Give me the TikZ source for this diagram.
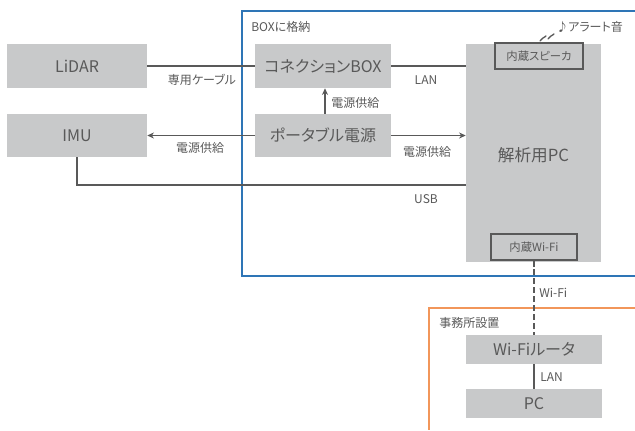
\documentclass[tikz,border=0pt]{standalone}
\usepackage{fontspec}
\setmainfont{Noto Sans CJK JP}[RawFeature={+palt}]
\usetikzlibrary{arrows.meta}
\definecolor{boxgray}{RGB}{200,201,202}
\definecolor{txt}{RGB}{89,89,89}
\definecolor{linegray}{RGB}{89,89,89}
\definecolor{bluec}{RGB}{46,117,182}
\definecolor{orangec}{RGB}{242,150,90}
\tikzset{
  box/.style={fill=boxgray, draw=none, text=txt, font=\fontsize{12}{14}\selectfont, inner sep=0pt},
  inbox/.style={fill=boxgray, draw=linegray, line width=0.8pt, text=txt, font=\fontsize{8.5}{10}\selectfont, inner sep=0pt},
  lbl/.style={text=txt, font=\fontsize{9}{11}\selectfont, inner sep=0pt},
  cable/.style={draw=linegray, line width=1.5pt},
  feed/.style={draw=linegray, line width=0.8pt, -{Stealth[length=5pt,width=4.5pt]}},
  wifi/.style={draw=linegray, line width=1.5pt, dash pattern=on 4.5pt off 2.2pt},
  frameb/.style={draw=bluec, line width=0.8pt},
  frameo/.style={draw=orangec, line width=0.8pt},
  wave/.style={draw=linegray, line width=1pt, line cap=round},
}
\begin{document}
\begin{tikzpicture}[x=0.75pt,y=-0.75pt]
\useasboundingbox[fill=white] (0,0) rectangle (635,430);
% frames
\draw[frameb] (635,11) -- (242,11) -- (242,276) -- (635,276);
\draw[frameo] (635,308) -- (429,308) -- (429,430);
\node[lbl, anchor=west] (boxlbl) at (251,27) {BOXに格納};
\node[lbl, anchor=west] (offlbl) at (439,323) {事務所設置};
% boxes
\node[box, minimum width=105pt, minimum height=33pt] (lidar) at (77,66) {LiDAR};
\node[box, minimum width=105pt, minimum height=32.5pt] (imu) at (77,135.5) {IMU};
\node[box, minimum width=102pt, minimum height=33pt] (conn) at (323,66) {コネクションBOX};
\node[box, minimum width=102pt, minimum height=32.5pt] (port) at (323,135.5) {ポータブル電源};
\node[box, minimum width=101.25pt, minimum height=163.5pt] (pc) at (533.5,153) {};
\node[text=txt, font=\fontsize{12.5}{14}\selectfont, inner sep=0pt] (pclbl) at (533.5,155) {解析用PC};
\node[inbox, minimum width=66pt, minimum height=19.5pt] (spk) at (539,56) {内蔵スピーカ};
\node[inbox, minimum width=64.5pt, minimum height=19.5pt] (wf) at (534,247) {内蔵Wi-Fi};
\node[box, minimum width=102pt, minimum height=21.75pt] (router) at (534,349.5) {Wi-Fiルータ};
\node[box, minimum width=102pt, minimum height=21.75pt] (opc) at (534,403.5) {PC};
% alert
\node[lbl, anchor=west] (alert) at (556,27) {♪アラート音};
\draw[wave] (540,41) to[out=80,in=250] (543,38) to[out=70,in=-100] (546,36);
\draw[wave] (548,39) to[out=80,in=250] (551,36) to[out=70,in=-100] (554,34);
% connectors
\draw[cable] (lidar.east) -- (conn.west);
\node[lbl] (l1) at (202,80) {専用ケーブル};
\draw[cable] (conn.east) -- (conn.east -| pc.west);
\node[lbl] (l2) at (426,80) {LAN};
\draw[feed] (port.north -| 325,0) -- (conn.south -| 325,0);
\node[lbl, anchor=west] (l3) at (331,103) {電源供給};
\draw[feed] (port.west) -- (imu.east);
\node[lbl] (l4) at (200,148) {電源供給};
\draw[feed] (port.east) -- (port.east -| pc.west);
\node[lbl] (l5) at (427,152) {電源供給};
\coordinate (usbc) at (77,185);
\draw[cable] (imu.south) -- (usbc) -- (usbc -| pc.west);
\node[lbl] (l6) at (426,199) {USB};
\draw[wifi] (wf.south) -- (router.north);
\node[lbl, anchor=west] (l7) at (539,293) {Wi-Fi};
\draw[cable] (router.south) -- (opc.north);
\node[lbl, anchor=west] (l8) at (540,377) {LAN};
\end{tikzpicture}
\end{document}
